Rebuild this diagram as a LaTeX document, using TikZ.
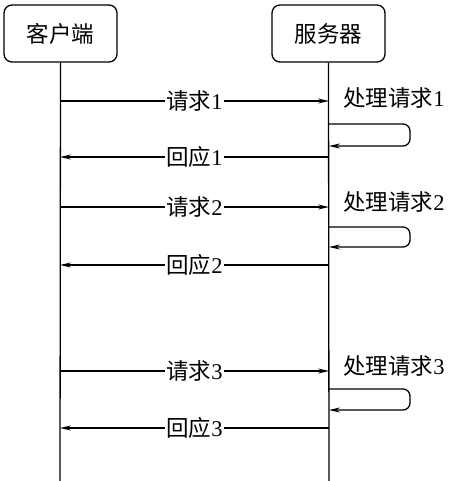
\documentclass[tikz,border=0pt]{standalone}
\usepackage{fontspec}
\setmainfont{Liberation Serif}
\newfontfamily\cjk{Noto Sans CJK SC}
\usetikzlibrary{arrows.meta}
\begin{document}
\begin{tikzpicture}[x=1pt,y=-1pt,
  every node/.style={font=\fontsize{22.5}{26}\selectfont},
  actor/.style={draw,line width=1.3pt,rounded corners=8pt,minimum width=113pt,minimum height=57pt,inner sep=0pt},
  lifeline/.style={line width=1.3pt},
  msg/.style={line width=1.3pt,-{Stealth[length=11pt,width=5pt]}},
  lbl/.style={fill=white,inner sep=1.5pt},
  plbl/.style={inner sep=0pt}]
\useasboundingbox (0,0) rectangle (450,481);
\node[actor] (client) at (60.5,33.5) {\cjk 客户端};
\node[actor] (server) at (328.5,33.5) {\cjk 服务器};
\coordinate (cend) at (60,481);
\coordinate (send) at (329,481);
\draw[lifeline] (client.south) -- (cend);
\draw[lifeline] (server.south) -- (send);
% y positions
\foreach \i/\yq/\yp/\ya/\yb/\yr in {1/101/98/124/146/157, 2/207/202/227/247/265, 3/371/366/389/410/428}{
  \coordinate (cq\i) at (60,\yq);
  \coordinate (sq\i) at (329,\yq);
  \draw[msg] (cq\i) -- node[lbl] {{\cjk 请求}\i} (sq\i);
  \node[plbl] (p\i) at (394,\yp) {{\cjk 处理请求}\i};
  \coordinate (la\i) at (329,\ya);
  \coordinate (lb\i) at (329,\yb);
  \draw[msg,rounded corners=7pt] (la\i) -- (410,\ya) -- (410,\yb) -- (lb\i);
  \coordinate (sr\i) at (329,\yr);
  \coordinate (cr\i) at (60,\yr);
  \draw[msg] (sr\i) -- node[lbl] {{\cjk 回应}\i} (cr\i);
}
\end{tikzpicture}
\end{document}
